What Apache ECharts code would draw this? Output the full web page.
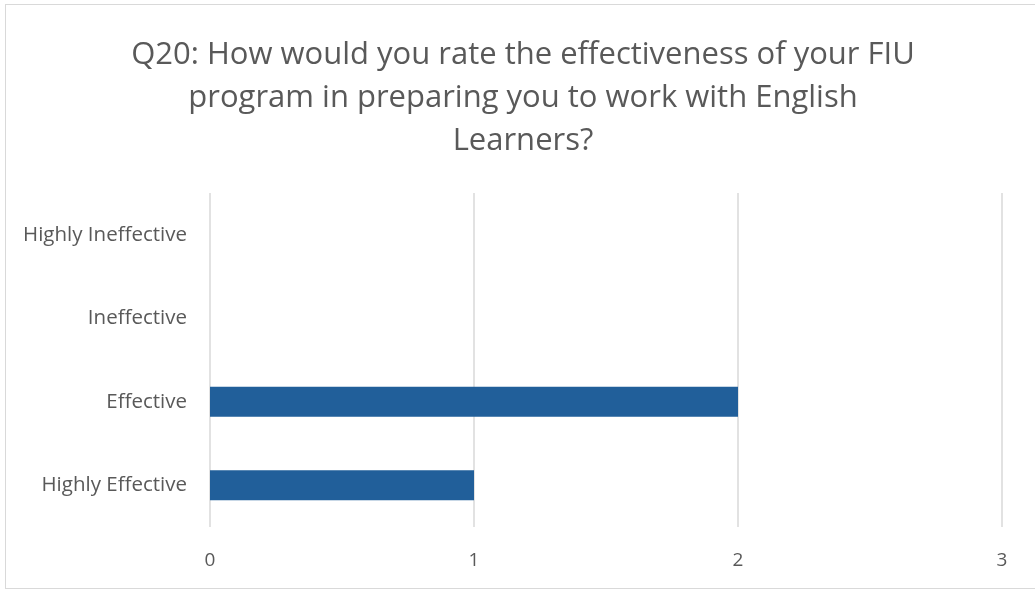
<!DOCTYPE html>
<html><head><meta charset="utf-8">
<script src="https://cdn.jsdelivr.net/npm/echarts@6/dist/echarts.min.js"></script>
<style>
html,body{margin:0;padding:0;background:#fff;}
#frame{position:absolute;left:5px;top:4px;width:1036px;height:585px;border:1px solid #d9d9d9;box-sizing:border-box;}
#c{position:absolute;left:0;top:0;width:1035px;height:589px;}
</style></head>
<body><div id="frame"></div><div id="c"></div>
<script>
const titleText = "Q20: How would you rate the effectiveness of your FIU\nprogram in preparing you to work with English\nLearners?";
const categories = ["Highly Effective", "Effective", "Ineffective", "Highly Ineffective"];
const values = [1, 2, 0, 0];
const xTicks = [0, 1, 2, 3];

const chart = echarts.init(document.getElementById('c'), null, {renderer: 'canvas'});
chart.setOption({
  animation: false,
  title: {
    text: titleText,
    left: 518, textAlign: 'center', top: 29,
    textStyle: {fontFamily: 'Open Sans', fontSize: 31, fontWeight: 'normal', color: '#595959', lineHeight: 43}
  },
  grid: {left: 210, right: 33, top: 193, bottom: 62, containLabel: false},
  xAxis: {
    type: 'value', min: xTicks[0], max: xTicks[xTicks.length - 1], interval: 1,
    axisLine: {show: false}, axisTick: {show: false},
    splitLine: {show: true, lineStyle: {color: '#d9d9d9', width: 1.5}},
    axisLabel: {color: '#595959', fontFamily: 'Open Sans', fontSize: 19, margin: 24}
  },
  yAxis: {
    type: 'category', data: categories,
    axisLine: {show: false}, axisTick: {show: false},
    axisLabel: {color: '#595959', fontFamily: 'Open Sans', fontSize: 20.5, margin: 23}
  },
  series: [{
    type: 'bar', data: values, barWidth: 30,
    itemStyle: {color: '#215F9A'}
  }]
});
</script></body></html>
